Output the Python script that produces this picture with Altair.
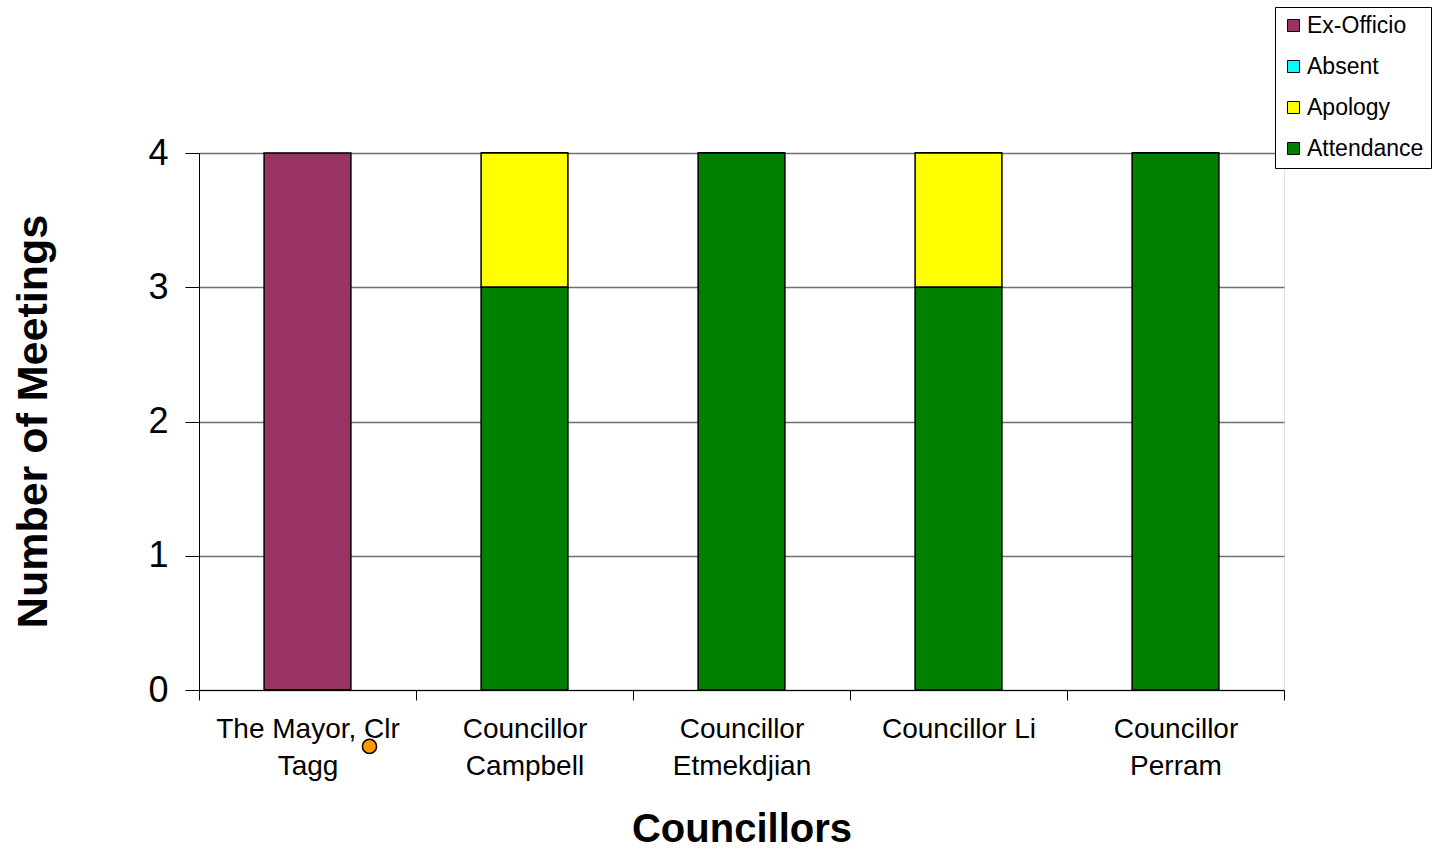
import altair as alt
import pandas as pd

councillors = ["The Mayor, Clr Tagg", "Councillor Campbell", "Councillor Etmekdjian",
               "Councillor Li", "Councillor Perram"]
label_lines = [["The Mayor, Clr", "Tagg"], ["Councillor", "Campbell"], ["Councillor", "Etmekdjian"],
               ["Councillor Li"], ["Councillor", "Perram"]]
statuses = ["Ex-Officio", "Absent", "Apology", "Attendance"]
colors = ["#993366", "#00FFFF", "#FFFF00", "#008000"]
stack_rank = {"Attendance": 0, "Apology": 1, "Absent": 2, "Ex-Officio": 3}

ex_officio = [4, 0, 0, 0, 0]
absent = [0, 0, 0, 0, 0]
apology = [0, 1, 0, 1, 0]
attendance = [0, 3, 4, 3, 4]

rows = []
for i, c in enumerate(councillors):
    for s, vals in zip(statuses, [ex_officio, absent, apology, attendance]):
        rows.append({"Councillor": c, "Status": s, "Meetings": vals[i], "rank": stack_rank[s]})
df = pd.DataFrame(rows)

# marker point seen below first label
marker = pd.DataFrame({"Councillor": [councillors[0]], "Meetings": [-0.42]})

expr = ""
for c, lines in zip(councillors, label_lines):
    arr = "[" + ",".join("'" + l + "'" for l in lines) + "]"
    expr += f"datum.label == '{c}' ? {arr} : "
expr += "datum.label"

FONT = "Liberation Sans"

xscale = alt.Scale(domain=councillors, paddingInner=0, paddingOuter=0)

xenc = alt.X("Councillor:N", sort=councillors, scale=xscale,
             axis=alt.Axis(title="Councillors", labelAngle=0, labelExpr=expr,
                           labelFontSize=28, labelColor="black", labelFont=FONT,
                           labelLineHeight=37, labelPadding=15, labelBaseline="top",
                           labelLimit=400,
                           tickBand="extent", tickSize=10, tickColor="black",
                           domainColor="black", grid=False,
                           titleFontSize=40, titleFont=FONT, titleFontWeight="bold",
                           titleColor="black", titleY=139, titleBaseline="middle"))

yscale = alt.Scale(domain=[0, 4], nice=False)

bars = alt.Chart(df).mark_bar(stroke="black", strokeWidth=1.5,
                              width=alt.RelativeBandSize(0.4)).encode(
    x=xenc,
    y=alt.Y("sum(Meetings):Q", scale=yscale,
            axis=alt.Axis(title="Number of Meetings", values=[0, 1, 2, 3, 4], format="d",
                          labelFontSize=36, labelColor="black", labelFont=FONT,
                          labelPadding=17, tickSize=14, tickColor="black",
                          domainColor="black", gridColor="#707070", gridWidth=1.3,
                          titleFontSize=43, titleFont=FONT, titleFontWeight="bold",
                          titleColor="black", titleX=-166, titleY=268,
                          titleBaseline="middle", titleAlign="center")),
    color=alt.Color("Status:N", scale=alt.Scale(domain=statuses, range=colors),
                    legend=alt.Legend(title=None, orient="none", legendX=1076, legendY=-146,
                                      symbolType="square", symbolSize=144,
                                      symbolStrokeColor="black", symbolStrokeWidth=1,
                                      labelFontSize=23, labelFont=FONT, labelColor="black",
                                      rowPadding=17, labelOffset=2, padding=7,
                                      strokeColor="black", fillColor="white")),
    order=alt.Order("rank:Q"),
)

dot = alt.Chart(marker).mark_point(filled=True, fill="#FF9900", stroke="black", strokeWidth=1.5,
                                    size=200, opacity=1, xOffset=62).encode(
    x=alt.X("Councillor:N", sort=councillors, scale=xscale),
    y=alt.Y("Meetings:Q", scale=yscale),
)

chart = alt.layer(bars, dot).properties(
    width=1085, height=537,
    autosize=alt.AutoSizeParams(type="none"),
    padding={"left": 199, "top": 153, "right": 148, "bottom": 159},
).configure_view(stroke=None).configure(background="white")

chart.save("out.html", embed_options={"renderer": "svg", "actions": False})
